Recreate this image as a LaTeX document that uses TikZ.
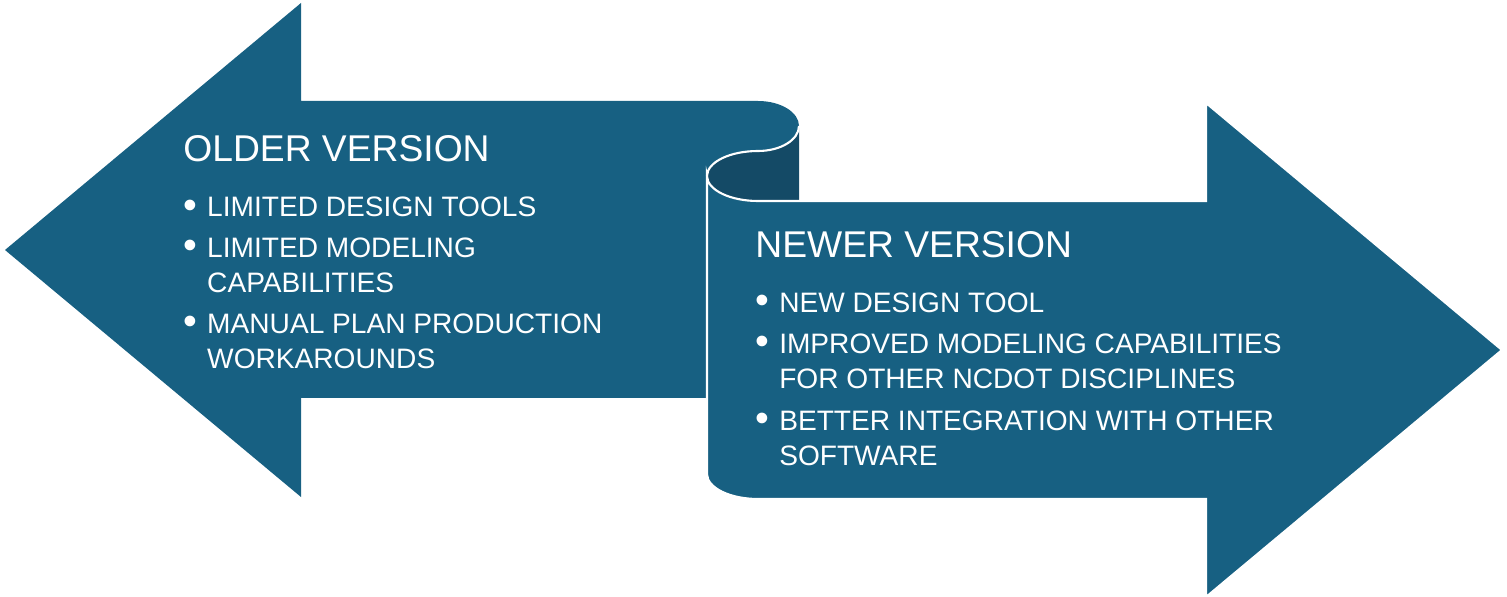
\documentclass[tikz,border=0pt]{standalone}
\usepackage{fontspec}
\setmainfont{Liberation Sans}
\usepackage{xcolor}
\usepackage{tikz}
\usetikzlibrary{calc}

\definecolor{arrowblue}{RGB}{23,96,130}
\definecolor{curlblue}{RGB}{20,74,102}

\newcommand{\bul}[1]{\makebox[13.6pt][l]{\raisebox{-0.6pt}{\scalebox{1.4}{\textbullet}}}\begin{tabular}[t]{@{}l@{}}#1\end{tabular}}

\tikzset{
    headline/.style={anchor=base west, inner sep=0pt, text=white, font=\fontsize{21.2}{25}\selectfont},
    entry/.style={anchor=base west, inner sep=0pt, text=white, font=\fontsize{16}{19.8}\selectfont}
}

\begin{document}
\begin{tikzpicture}[x=0.02cm, y=-0.02cm]
    \useasboundingbox (0,0) rectangle (1507,597);
    % left arrow with the upper roll
    \fill[arrowblue] (5,250) -- (301,3) -- (301,101) -- (758,101)
        arc[start angle=-90, end angle=90, x radius=41, y radius=25]
        arc[start angle=-90, end angle=-180, x radius=51, y radius=25]
        -- (707,398) -- (301,398) -- (301,497) -- cycle;
    % inside of the roll
    \fill[curlblue] (799,126)
        arc[start angle=0, end angle=90, x radius=41, y radius=25]
        arc[start angle=-90, end angle=-180, x radius=51, y radius=25]
        arc[start angle=180, end angle=90, x radius=51, y radius=25]
        -- (799,201) -- cycle;
    % right arrow
    \filldraw[fill=arrowblue, draw=white, line width=1.2pt] (707,176)
        arc[start angle=180, end angle=90, x radius=51, y radius=25]
        -- (1206,201) -- (1206,103) -- (1502,350) -- (1206,597) -- (1206,499) -- (758,499)
        arc[start angle=90, end angle=180, x radius=51, y radius=25] -- cycle;
    \draw[white, line width=1.2pt] (799,126)
        arc[start angle=0, end angle=90, x radius=41, y radius=25]
        arc[start angle=-90, end angle=-180, x radius=51, y radius=25];

    \node[headline] (oldhead) at (183,162) {OLDER VERSION};
    \node[entry] (old1) at (183,217) {\bul{LIMITED DESIGN TOOLS}};
    \node[entry] (old2) at (183,257.5) {\bul{LIMITED MODELING\\CAPABILITIES}};
    \node[entry] (old3) at (183,333.5) {\bul{MANUAL PLAN PRODUCTION\\WORKAROUNDS}};

    \node[headline] (newhead) at (755,257.5) {NEWER VERSION};
    \node[entry] (new1) at (755,312.5) {\bul{NEW DESIGN TOOL}};
    \node[entry] (new2) at (755,353.5) {\bul{IMPROVED MODELING CAPABILITIES\\FOR OTHER NCDOT DISCIPLINES}};
    \node[entry] (new3) at (755,430.5) {\bul{BETTER INTEGRATION WITH OTHER\\SOFTWARE}};
\end{tikzpicture}
\end{document}
